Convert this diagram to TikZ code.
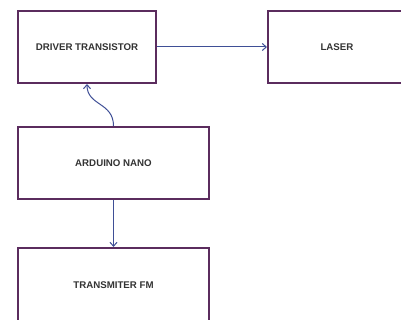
\documentclass[tikz,border=0pt]{standalone}
\usepackage{fontspec}
\setmainfont{Liberation Sans}
\usetikzlibrary{arrows.meta}
\definecolor{boxc}{RGB}{91,44,94}
\definecolor{arrc}{RGB}{63,79,150}
\definecolor{txtc}{RGB}{51,51,51}
\begin{document}
\begin{tikzpicture}[x=1pt,y=-1pt,
  blk/.style={draw=boxc,line width=2pt,fill=white,inner sep=0pt,
    font=\fontsize{9.7}{11}\selectfont\bfseries,text=txtc},
  conn/.style={draw=arrc,line width=1pt,-{Straight Barb[length=4pt,width=7pt]}}]
\useasboundingbox (0,0) rectangle (401,320);
\node[blk,minimum width=138pt,minimum height=72pt] (drv) at (87,47) {DRIVER TRANSISTOR};
\node[blk,minimum width=138pt,minimum height=72pt] (las) at (337,47) {LASER};
\node[blk,minimum width=191pt,minimum height=72pt] (ard) at (113.5,163) {ARDUINO NANO};
\node[blk,minimum width=191pt,minimum height=74pt] (tx) at (113.5,285) {TRANSMITER FM};
\draw[conn] (drv.east) -- (las.west);
\draw[conn] (ard.south) -- (tx.north);
\draw[conn] (ard.north) .. controls +(0,-24) and +(0,22) .. (drv.south);
\end{tikzpicture}
\end{document}
